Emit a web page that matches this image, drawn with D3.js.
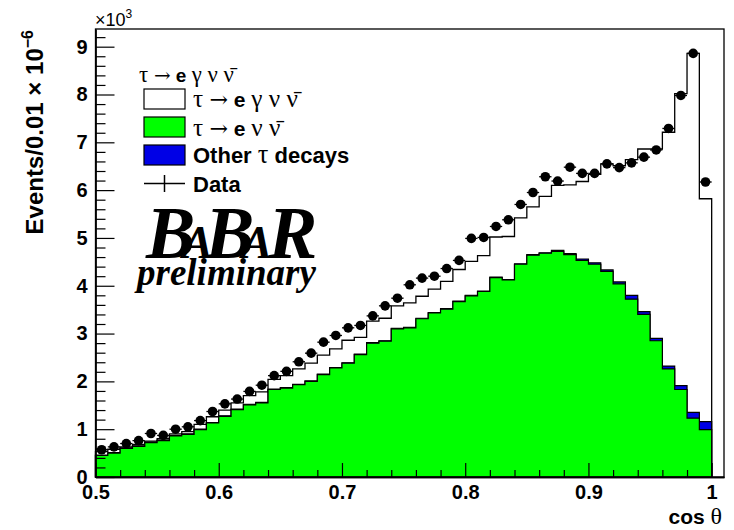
<!DOCTYPE html>
<html><head><meta charset="utf-8">
<script src="https://cdn.jsdelivr.net/npm/d3@7/dist/d3.min.js"></script>
<style>body{margin:0;background:#fff;} svg{display:block;}</style>
</head><body>
<svg id="chart" width="734" height="530"></svg>
<script>
// ---- data (values in units of 10^3) ----
const binLow = d3.range(50).map(i => +(0.5 + i * 0.01).toFixed(2));
const binWidth = 0.01;
const dataVals = [0.57,0.63,0.70,0.76,0.91,0.87,1.00,1.05,1.18,1.37,
                  1.53,1.63,1.79,1.92,2.12,2.21,2.41,2.59,2.82,2.96,
                  3.12,3.17,3.37,3.58,3.74,4.02,4.16,4.20,4.36,4.53,
                  4.99,5.01,5.24,5.38,5.70,5.95,6.28,6.19,6.48,6.35,
                  6.35,6.55,6.47,6.57,6.69,6.84,7.29,7.98,8.86,6.17];
const totalMC = [0.53,0.58,0.63,0.68,0.75,0.80,0.90,0.95,1.10,1.26,
                 1.40,1.55,1.70,1.78,2.04,2.12,2.26,2.38,2.55,2.68,
                 2.86,2.92,3.26,3.32,3.58,3.64,3.78,3.93,4.09,4.34,
                 4.51,4.63,5.02,5.03,5.42,5.65,5.87,6.10,6.11,6.18,
                 6.33,6.55,6.51,6.64,6.86,6.86,7.21,8.02,8.86,5.82];
const eNuNu = [0.45,0.50,0.60,0.64,0.72,0.76,0.86,0.89,0.99,1.13,
               1.27,1.41,1.51,1.55,1.83,1.86,1.93,2.00,2.14,2.28,
               2.38,2.56,2.80,2.84,3.10,3.12,3.31,3.43,3.51,3.67,
               3.79,3.88,4.17,4.12,4.45,4.64,4.68,4.72,4.65,4.53,
               4.45,4.30,4.04,3.72,3.40,2.85,2.26,1.83,1.23,0.99];
const otherTau = [0.01,0.01,0.01,0.01,0.01,0.01,0.01,0.01,0.01,0.01,
                  0.01,0.01,0.01,0.01,0.01,0.01,0.01,0.01,0.01,0.01,
                  0.01,0.01,0.01,0.01,0.01,0.01,0.01,0.01,0.01,0.01,
                  0.01,0.01,0.01,0.01,0.01,0.01,0.01,0.02,0.02,0.03,
                  0.03,0.03,0.04,0.08,0.06,0.05,0.06,0.08,0.12,0.17];
const xMajor = [0.5,0.6,0.7,0.8,0.9,1.0];
const xMajorLabels = ["0.5","0.6","0.7","0.8","0.9","1"];
const yMajor = [0,1,2,3,4,5,6,7,8,9];
const yMajorLabels = ["0","1","2","3","4","5","6","7","8","9"];

// ---- scales ----
const svg = d3.select("#chart");
const x = d3.scaleLinear().domain([0.5, 1.01]).range([95.5, 724]);
const y = d3.scaleLinear().domain([0, 9.37]).range([477, 29]);

function histPath(vals) {
  const p = d3.path();
  p.moveTo(x(binLow[0]), y(0));
  vals.forEach((v, i) => {
    p.lineTo(x(binLow[i]), y(v));
    p.lineTo(x(binLow[i] + binWidth), y(v));
  });
  p.lineTo(x(binLow[binLow.length - 1] + binWidth), y(0));
  p.closePath();
  return p.toString();
}

const stackBlue = eNuNu.map((v, i) => v + otherTau[i]);

svg.append("path").attr("d", histPath(totalMC))
  .attr("fill", "#ffffff").attr("stroke", "#000").attr("stroke-width", 1.3);
svg.append("path").attr("d", histPath(stackBlue))
  .attr("fill", "#0000e6").attr("stroke", "#000").attr("stroke-width", 1.2);
svg.append("path").attr("d", histPath(eNuNu))
  .attr("fill", "#00ff00").attr("stroke", "#000").attr("stroke-width", 1.2);

// ---- frame ----
svg.append("rect").attr("x", x(0.5)).attr("y", y(9.37))
  .attr("width", x(1.01) - x(0.5)).attr("height", y(0) - y(9.37))
  .attr("fill", "none").attr("stroke", "#000").attr("stroke-width", 1.3);

// ---- axes ----
const xMinor = d3.range(0.5, 1.0001, 0.02).map(v => +v.toFixed(2)).filter(v => !xMajor.some(m => Math.abs(m - v) < 1e-6));
const yMinor = d3.range(0, 9.21, 0.2).map(v => +v.toFixed(1)).filter(v => Math.abs(v - Math.round(v)) > 1e-6);

svg.append("g").attr("transform", `translate(0,${y(0)})`)
  .call(d3.axisBottom(x).tickValues(xMajor).tickSize(-14).tickSizeOuter(0).tickPadding(8)
    .tickFormat((d, i) => xMajorLabels[i]));
svg.append("g").attr("transform", `translate(0,${y(0)})`)
  .call(d3.axisBottom(x).tickValues(xMinor).tickSize(-7).tickSizeOuter(0).tickFormat(""));
svg.append("g").attr("transform", `translate(${x(0.5)},0)`)
  .call(d3.axisLeft(y).tickValues(yMajor).tickSize(-19).tickSizeOuter(0).tickPadding(8)
    .tickFormat((d, i) => yMajorLabels[i]));
svg.append("g").attr("transform", `translate(${x(0.5)},0)`)
  .call(d3.axisLeft(y).tickValues(yMinor).tickSize(-10).tickSizeOuter(0).tickFormat(""));
svg.selectAll(".domain").attr("stroke", "#000").attr("stroke-width", 1.3);
svg.selectAll(".tick line").attr("stroke", "#000").attr("stroke-width", 1.2);
svg.selectAll(".tick text").attr("font-family", "Liberation Sans, Arial, sans-serif")
  .attr("font-weight", "bold").attr("font-size", 20).attr("fill", "#000");

// ---- data points ----
const pts = svg.append("g");
dataVals.forEach((v, i) => {
  const cx = x(binLow[i] + binWidth / 2);
  pts.append("line").attr("x1", x(binLow[i])).attr("x2", x(binLow[i] + binWidth))
    .attr("y1", y(v)).attr("y2", y(v)).attr("stroke", "#000").attr("stroke-width", 1.3);
  pts.append("circle").attr("cx", cx).attr("cy", y(v)).attr("r", 4.8).attr("fill", "#000");
});

// ---- axis titles ----
const sans = "Liberation Sans, Arial, sans-serif";
const serif = "Liberation Serif, Times New Roman, serif";
const yt = svg.append("text").attr("transform", "translate(43,30) rotate(-90)")
  .attr("text-anchor", "end").attr("font-family", sans).attr("font-weight", "bold").attr("font-size", 24);
yt.append("tspan").text("Events/0.01 × 10");
yt.append("tspan").attr("font-size", 16).attr("dy", -10).text("−6");

const xt = svg.append("text").attr("x", 722).attr("y", 524).attr("text-anchor", "end")
  .attr("font-family", sans).attr("font-weight", "bold").attr("font-size", 21);
xt.append("tspan").text("cos ");
xt.append("tspan").attr("font-family", serif).attr("font-weight", "normal").attr("font-size", 24).text("θ");

const ex = svg.append("text").attr("x", 95).attr("y", 26).attr("font-family", sans).attr("font-size", 18);
ex.append("tspan").text("×10");
ex.append("tspan").attr("font-size", 12).attr("dy", -8).text("3");

// ---- legend ----
function formula(g, xx, yy, size, parts) {
  const t = g.append("text").attr("x", xx).attr("y", yy).attr("font-size", size);
  parts.forEach(p => {
    const s = t.append("tspan").text(p.t);
    if (p.a) s.attr("font-family", "DejaVu Serif, serif").attr("font-size", size * 1.05);
    else if (p.s) s.attr("font-family", serif).attr("font-size", size * 1.2);
    else s.attr("font-family", sans).attr("font-weight", "bold");
  });
  return t;
}
const leg = svg.append("g");
formula(leg, 139, 82, 19, [{t:"τ ", s:1},{t:"→", a:1},{t:" e "},{t:"γ ν ν\u0304", s:1}]);
const boxes = [
  {fill:"#ffffff", y:89},
  {fill:"#00ff00", y:117},
  {fill:"#0000e6", y:145}
];
boxes.forEach(b => leg.append("rect").attr("x", 144).attr("y", b.y).attr("width", 41).attr("height", 20)
  .attr("fill", b.fill).attr("stroke", "#000").attr("stroke-width", 1.2));
formula(leg, 193, 107, 21, [{t:"τ ", s:1},{t:"→", a:1},{t:" e "},{t:"γ ν ν\u0304", s:1}]);
formula(leg, 193, 136, 21, [{t:"τ ", s:1},{t:"→", a:1},{t:" e "},{t:"ν ν\u0304", s:1}]);
formula(leg, 193, 163, 22, [{t:"Other "},{t:"τ", s:1},{t:" decays"}]);
formula(leg, 193, 192, 22, [{t:"Data"}]);
leg.append("line").attr("x1", 144).attr("x2", 185).attr("y1", 183.5).attr("y2", 183.5).attr("stroke", "#000").attr("stroke-width", 1.5);
leg.append("line").attr("x1", 164.5).attr("x2", 164.5).attr("y1", 175).attr("y2", 192).attr("stroke", "#000").attr("stroke-width", 1.5);

// ---- BaBar logo ----
const logo = svg.append("text").attr("x", 146).attr("y", 258)
  .attr("font-family", serif).attr("font-style", "italic").attr("font-weight", "bold").attr("fill", "#000");
logo.append("tspan").attr("font-size", 74).text("B");
logo.append("tspan").attr("font-size", 46).attr("dx", -13).text("A");
logo.append("tspan").attr("font-size", 74).attr("dx", -8).text("B");
logo.append("tspan").attr("font-size", 46).attr("dx", -13).text("A");
logo.append("tspan").attr("font-size", 74).attr("dx", -4).text("R");
svg.append("text").attr("x", 137).attr("y", 285).attr("font-family", serif)
  .attr("font-style", "italic").attr("font-weight", "bold").attr("font-size", 37).text("preliminary");
</script>
</body></html>
